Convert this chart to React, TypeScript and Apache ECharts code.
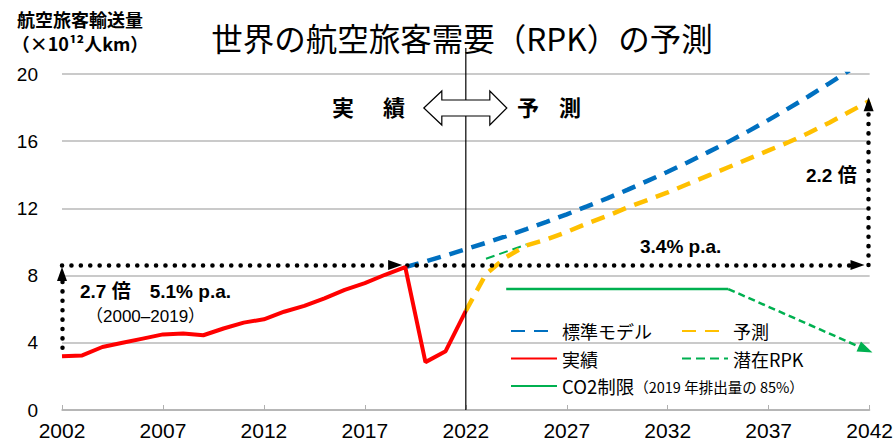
import React, { useEffect, useRef } from 'react';
import * as echarts from 'echarts';

// ---- data ----
const ACTUAL_YEARS = [2002, 2003, 2004, 2005, 2006, 2007, 2008, 2009, 2010, 2011, 2012, 2013, 2014, 2015, 2016, 2017, 2018, 2019, 2020, 2021, 2022];
const ACTUAL = [3.2, 3.25, 3.75, 4.0, 4.25, 4.5, 4.55, 4.45, 4.85, 5.2, 5.4, 5.85, 6.2, 6.65, 7.15, 7.55, 8.05, 8.5, 2.85, 3.5, 5.9];

const BASE_YEARS = [2019, 2020, 2021, 2022, 2023, 2024, 2025, 2026, 2027, 2028, 2029, 2030, 2031, 2032, 2033, 2034, 2035, 2036, 2037, 2038, 2039, 2040, 2041];
const BASE = [8.5, 8.84, 9.2, 9.57, 9.95, 10.35, 10.77, 11.2, 11.65, 12.12, 12.6, 13.1, 13.64, 14.18, 14.75, 15.35, 15.96, 16.6, 17.27, 17.97, 18.69, 19.44, 20.22];

const FORECAST_YEARS = [2022, 2023, 2024, 2025, 2026, 2027, 2028, 2029, 2030, 2031, 2032, 2033, 2034, 2035, 2036, 2037, 2038, 2039, 2040, 2041, 2042];
const FORECAST = [5.9, 8.1, 9.1, 9.8, 10.15, 10.6, 11.1, 11.55, 12.05, 12.5, 12.95, 13.45, 13.95, 14.45, 14.95, 15.45, 15.95, 16.5, 17.1, 17.75, 18.4];

const POTENTIAL_YEARS = [2023, 2025];
const POTENTIAL = [9.0, 9.85];

const CO2_YEARS = [2024, 2035];
const CO2 = [7.2, 7.2];
const CO2_ARROW_END = [2041.8, 3.6];

const X_TICKS = [2002, 2007, 2012, 2017, 2022, 2027, 2032, 2037, 2042];
const Y_TICKS = [0, 4, 8, 12, 16, 20];

// annotation guide values
const GUIDE_LEVEL = 8.63; // horizontal dotted level
const LEFT_GUIDE_BOTTOM = 3.7;
const RIGHT_GUIDE_TOP = 18.2;

const JP = "'Noto Sans CJK JP', sans-serif";
const LAT = "'Liberation Sans', Arial, 'Noto Sans CJK JP', sans-serif";
const NARROW = "'Liberation Sans Narrow', 'Liberation Sans', Arial, sans-serif";

const zip = (xs: number[], ys: number[]) => xs.map((x, i) => [x, ys[i]]);

export default function App() {
  const ref = useRef<HTMLDivElement>(null);

  useEffect(() => {
    document.body.style.margin = '0';
    if (!ref.current) return;
    const chart = echarts.init(ref.current, null, { renderer: 'svg' });

    const dotted = { color: '#000', width: 4.5, type: [0.1, 9.3] as any, cap: 'round' as any };

    const option: any = {
      animation: false,
      grid: { left: 62, right: 25, top: 74, bottom: 34 },
      xAxis: {
        type: 'value',
        min: X_TICKS[0],
        max: X_TICKS[X_TICKS.length - 1],
        interval: 5,
        axisLine: { show: true, lineStyle: { color: '#b0b0b0', width: 1.5 } },
        axisTick: { show: true, inside: true, length: 5, lineStyle: { color: '#b0b0b0' } },
        splitLine: { show: false },
        axisLabel: { fontFamily: NARROW, fontSize: 21, color: '#000', margin: 10, formatter: (v: number) => String(v) },
      },
      yAxis: {
        type: 'value',
        min: Y_TICKS[0],
        max: Y_TICKS[Y_TICKS.length - 1],
        interval: 4,
        axisLine: { show: false },
        axisTick: { show: false },
        splitLine: { show: true, lineStyle: { color: '#b8b8b8', width: 1.5 } },
        axisLabel: { fontFamily: LAT, fontSize: 19, color: '#000', margin: 24 },
      },
      legend: [
        {
          orient: 'vertical', left: 505, top: 316, itemGap: 7.5, itemWidth: 46, itemHeight: 14,
          data: ['標準モデル', '実績', 'CO2制限'],
          itemStyle: { opacity: 0 },
          textStyle: {
            fontFamily: JP, fontSize: 18, color: '#000', lineHeight: 20,
            rich: {
              a: { fontFamily: JP, fontSize: 18.5, color: '#000' },
              b: { fontFamily: JP, fontSize: 14.5, color: '#000' },
            },
          },
          formatter: (name: string) => (name === 'CO2制限' ? '{a|CO2制限}{b|（2019 年排出量の 85%）}' : name),
        },
        {
          orient: 'vertical', left: 676, top: 316, itemGap: 7.5, itemWidth: 46, itemHeight: 14,
          data: ['予測', '潜在RPK'],
          itemStyle: { opacity: 0 },
          textStyle: { fontFamily: JP, fontSize: 18, color: '#000', lineHeight: 20 },
        },
      ],
      series: [
        {
          name: '標準モデル', type: 'line', symbol: 'none', z: 3,
          data: zip(BASE_YEARS, BASE),
          lineStyle: { color: '#0070C0', width: 4.5, type: [14, 9] },
          itemStyle: { color: '#0070C0' },
        },
        {
          name: '潜在RPK', type: 'line', symbol: 'none', z: 3,
          data: zip(POTENTIAL_YEARS, POTENTIAL),
          lineStyle: { color: '#00B050', width: 2, type: [9, 5] },
          itemStyle: { color: '#00B050' },
        },
        {
          name: '予測', type: 'line', symbol: 'none', z: 4,
          data: zip(FORECAST_YEARS, FORECAST),
          lineStyle: { color: '#FFC000', width: 4.5, type: [14, 9] },
          itemStyle: { color: '#FFC000' },
        },
        {
          name: '実績', type: 'line', symbol: 'none', z: 5,
          data: zip(ACTUAL_YEARS, ACTUAL),
          lineStyle: { color: '#FF0000', width: 4 },
          itemStyle: { color: '#FF0000' },
        },
        {
          name: 'CO2制限', type: 'line', symbol: 'none', z: 3,
          data: zip(CO2_YEARS, CO2),
          lineStyle: { color: '#00B050', width: 2.5 },
          itemStyle: { color: '#00B050' },
          markLine: {
            silent: true, animation: false,
            symbol: ['none', 'triangle'], symbolSize: [11, 15],
            label: { show: false },
            lineStyle: { color: '#00B050', width: 2.5, type: [7, 4] },
            data: [[
              { coord: [CO2_YEARS[1], CO2[1]] },
              { coord: CO2_ARROW_END },
            ]],
          },
        },
        {
          name: 'guides', type: 'line', data: [], symbol: 'none', z: 6,
          markLine: {
            silent: true, animation: false,
            symbol: ['none', 'triangle'], symbolSize: [10, 14],
            label: { show: false },
            lineStyle: dotted,
            itemStyle: { color: '#000' },
            data: [
              [{ coord: [2002, LEFT_GUIDE_BOTTOM] }, { coord: [2002, 8.1] }],
              [{ coord: [2002, GUIDE_LEVEL] }, { coord: [2018.5, GUIDE_LEVEL] }],
              [{ coord: [2019.1, GUIDE_LEVEL] }, { coord: [2041.4, GUIDE_LEVEL] }],
              [{ coord: [2041.95, GUIDE_LEVEL] }, { coord: [2041.95, RIGHT_GUIDE_TOP] }],
            ],
          },
        },
      ],
    };
    chart.setOption(option);

    const p = (x: number, y: number) => chart.convertToPixel({ gridIndex: 0 }, [x, y]) as number[];
    const vx = p(2022, 0)[0];
    const bottom = p(2022, 0)[1];
    const ay = 108;
    const polyPts = [
      [vx - 42, ay], [vx - 24, ay - 17], [vx - 24, ay - 8], [vx + 24, ay - 8], [vx + 24, ay - 17],
      [vx + 41, ay], [vx + 24, ay + 17], [vx + 24, ay + 8], [vx - 24, ay + 8], [vx - 24, ay + 17],
    ];
    const txt = (x: number, y: number, text: string, size: number, bold: boolean, align = 'left', font = LAT) => ({
      type: 'text', x, y, z: 100,
      style: { text, fontSize: size, fontWeight: bold ? 'bold' : 'normal', fontFamily: font, fill: '#000', align, verticalAlign: 'middle' },
    });

    chart.setOption({
      graphic: [
        { type: 'line', z: 50, shape: { x1: vx, y1: 48, x2: vx, y2: bottom }, style: { stroke: '#000', lineWidth: 1.2 } },
        { type: 'polygon', z: 51, shape: { points: polyPts }, style: { fill: '#fff', stroke: '#000', lineWidth: 1.2 } },
        txt(462, 37, '世界の航空旅客需要（RPK）の予測', 31.5, false, 'center', JP),
        txt(80, 19, '航空旅客輸送量', 18, true, 'center', JP),
        txt(80, 43, '（×10¹²人km）', 18, true, 'center', JP),
        txt(343, 106, '実', 22, true, 'center', JP),
        txt(394, 106, '績', 22, true, 'center', JP),
        txt(528, 106, '予', 22, true, 'center', JP),
        txt(570, 106, '測', 22, true, 'center', JP),
        txt(80, 291, '2.7 倍　5.1% p.a.', 19, true),
        txt(86, 316, '（2000–2019）', 17, false),
        txt(640, 246, '3.4% p.a.', 19, true),
        txt(806, 175, '2.2 倍', 19, true),
      ],
    });

    return () => chart.dispose();
  }, []);

  return <div ref={ref} style={{ width: 896, height: 444 }} />;
}
